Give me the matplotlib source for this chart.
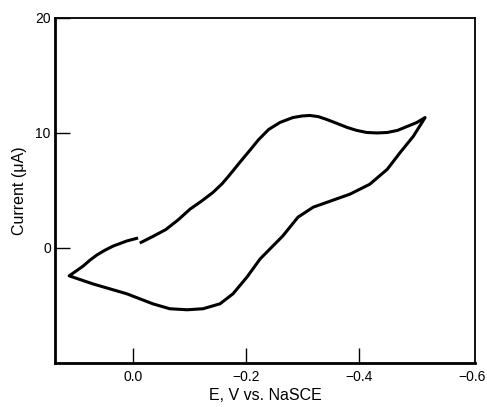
import matplotlib
matplotlib.use("Agg")
import matplotlib.pyplot as plt

plt.rcParams['font.family'] = ['Liberation Sans', 'DejaVu Sans']

# Cyclic voltammogram (E in V vs. NaSCE, current in uA)
# forward scan: start near 0 V, going negative
E_fwd = [-0.012, -0.035, -0.058, -0.080, -0.101, -0.122, -0.142, -0.158, -0.172,
         -0.190, -0.207, -0.222, -0.240, -0.260, -0.283, -0.300, -0.313, -0.328,
         -0.343, -0.360, -0.379, -0.396, -0.414, -0.432, -0.450, -0.468, -0.485,
         -0.502, -0.517]
I_fwd = [0.43, 1.0, 1.6, 2.45, 3.38, 4.1, 4.85, 5.6, 6.41,
         7.5, 8.5, 9.4, 10.3, 10.91, 11.34, 11.48, 11.52, 11.42,
         11.17, 10.85, 10.48, 10.22, 10.04, 10.0, 10.04, 10.22, 10.56,
         10.9, 11.34]
# reverse scan back to the positive limit
E_rev = [-0.517, -0.496, -0.473, -0.450, -0.419, -0.384, -0.349, -0.319, -0.292,
         -0.265, -0.237, -0.225, -0.202, -0.177, -0.154, -0.124, -0.096, -0.065,
         -0.035, 0.011, 0.071, 0.113]
I_rev = [11.34, 9.70, 8.31, 6.84, 5.54, 4.68, 4.07, 3.55, 2.68,
         1.04, -0.35, -0.95, -2.51, -3.98, -4.85, -5.28, -5.37, -5.28,
         -4.85, -3.98, -3.12, -2.42]
# return toward the starting potential
E_ret = [0.113, 0.100, 0.088, 0.076, 0.064, 0.050, 0.035, 0.011, -0.009]
I_ret = [-2.42, -1.98, -1.56, -1.05, -0.61, -0.2, 0.17, 0.61, 0.87]

x_ticks = [0.0, -0.2, -0.4, -0.6]
y_ticks = [0, 10, 20]

fig = plt.figure(figsize=(4.87, 4.07), dpi=100)
ax = fig.add_axes([0.113, 0.108, 0.862, 0.848])

ax.plot(E_fwd + E_rev[1:] + E_ret[1:], I_fwd + I_rev[1:] + I_ret[1:],
        color='black', lw=2.2, solid_joinstyle='round', solid_capstyle='butt')

ax.set_xlim(0.138, -0.605)
ax.set_ylim(-10, 20)
ax.set_xticks(x_ticks)
ax.set_xticklabels(['0.0', '\u22120.2', '\u22120.4', '\u22120.6'])
ax.set_yticks(y_ticks)

ax.tick_params(direction='in', length=11, width=1.0, labelsize=10, pad=3)
ax.tick_params(axis='x', pad=5)
# the -0.6 tick sits on the right frame edge in the original
ax.xaxis.get_major_ticks()[-1].tick1line.set_visible(False)

for s in ['left', 'bottom']:
    ax.spines[s].set_linewidth(2.0)
for s in ['top', 'right']:
    ax.spines[s].set_linewidth(1.3)

ax.set_xlabel('E, V vs. NaSCE', fontsize=11.5, labelpad=3)
ax.set_ylabel('Current (\u03bcA)', fontsize=11.5, labelpad=6)

fig.savefig('out.png', dpi=100)
